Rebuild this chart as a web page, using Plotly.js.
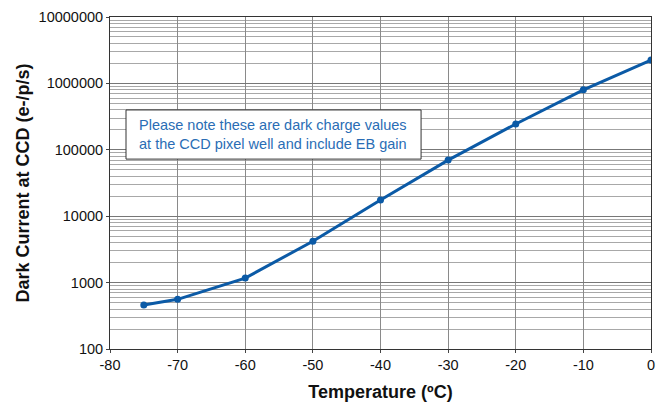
<!DOCTYPE html>
<html>
<head>
<meta charset="utf-8">
<script src="https://cdn.plot.ly/plotly-3.0.1.min.js"></script>
<style>html,body{margin:0;padding:0;background:#fff;}#chart{width:663px;height:405px;}</style>
</head>
<body>
<div id="chart"></div>
<script>
const temperatures = [-75, -70, -60, -50, -40, -30, -20, -10, 0];
const darkCurrent = [460, 560, 1170, 4200, 17500, 70000, 245000, 800000, 2250000];
const yTickVals = [100, 1000, 10000, 100000, 1000000, 10000000];
const yTickText = ['100', '1000', '10000', '100000', '1000000', '10000000'];
const xTickVals = [-80, -70, -60, -50, -40, -30, -20, -10, 0];
const xTickText = ['-80', '-70', '-60', '-50', '-40', '-30', '-20', '-10', '0'];
const noteText = 'Please note these are dark charge values<br>at the CCD pixel well and include EB gain';

const FONT = 'Liberation Sans, Arial, sans-serif';

const trace = {
  x: temperatures,
  y: darkCurrent,
  type: 'scatter',
  mode: 'lines+markers',
  line: {color: '#0b5aa6', width: 3},
  marker: {color: '#0b5aa6', size: 7},
  hoverinfo: 'x+y'
};

const layout = {
  width: 663, height: 405,
  margin: {l: 110, r: 12, t: 17, b: 56},
  paper_bgcolor: '#fff', plot_bgcolor: '#fff',
  showlegend: false,
  font: {family: FONT, size: 14, color: '#111'},
  xaxis: {
    range: [-80, 0],
    tickvals: xTickVals, ticktext: xTickText,
    ticks: 'outside', ticklen: 3, tickcolor: '#444',
    showgrid: true, gridcolor: '#8a8a8a', gridwidth: 1,
    showline: true, linecolor: '#333', linewidth: 1, mirror: true,
    zeroline: false,
    automargin: false,
    tickfont: {size: 14.5, color: '#111', family: FONT},
    title: {text: 'Temperature (ºC)', font: {size: 18, color: '#111', family: FONT, weight: 'bold'}, standoff: 12}
  },
  yaxis: {
    type: 'log',
    range: [2, 7],
    tickvals: yTickVals, ticktext: yTickText,
    ticks: 'outside', ticklen: 3, tickcolor: '#444',
    showgrid: true, gridcolor: '#777', gridwidth: 1,
    minor: {showgrid: true, gridcolor: '#a8a8a8', gridwidth: 1, dtick: 'D1', ticks: ''},
    showline: true, linecolor: '#333', linewidth: 1, mirror: true,
    zeroline: false,
    automargin: false,
    tickfont: {size: 14.5, color: '#111', family: FONT},
    title: {text: 'Dark Current at CCD (e-/p/s)', font: {size: 18, color: '#111', family: FONT, weight: 'bold'}, standoff: 4}
  },
  shapes: [{
    type: 'rect', xref: 'paper', yref: 'paper',
    x0: 0.0296, x1: 0.575, y0: 0.572, y1: 0.72,
    fillcolor: '#fff', line: {color: '#333', width: 1},
    layer: 'above'
  }],
  annotations: [{
    xref: 'paper', yref: 'paper',
    x: 0.302, y: 0.646,
    xanchor: 'center', yanchor: 'middle',
    text: noteText,
    showarrow: false,
    align: 'center',
    font: {size: 14.5, color: '#2a6db5', family: FONT}
  }]
};

Plotly.newPlot('chart', [trace], layout, {displayModeBar: false, staticPlot: true});
</script>
</body>
</html>
